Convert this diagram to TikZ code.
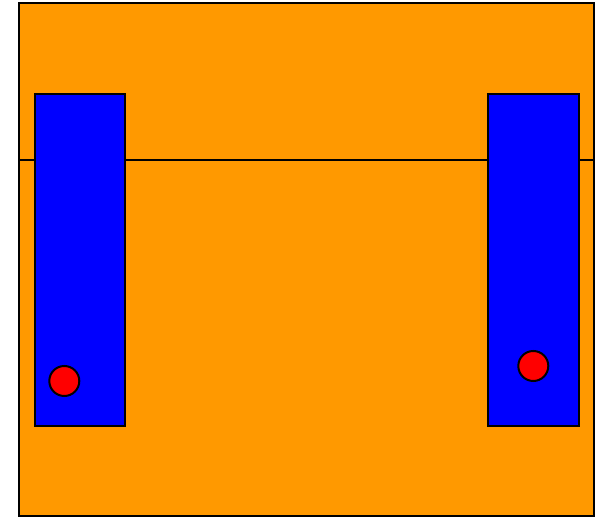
\documentclass[tikz,border=0pt]{standalone}
\usepackage{tikz}
\usetikzlibrary{calc}
\usetikzlibrary{shapes.geometric}

\definecolor{tankorange}{RGB}{255,153,0}

\begin{document}
\begin{tikzpicture}[x=1pt,y=-1pt,line width=2pt,
   tank/.style={draw,fill=tankorange,rectangle,inner sep=0pt,minimum width=574.5pt,minimum height=512.5pt},
   post/.style={draw,fill=blue,rectangle,inner sep=0pt,minimum height=332.5pt},
   ball/.style={draw,fill=red,circle,inner sep=0pt,minimum size=30pt}]
\useasboundingbox (0,0) rectangle (600,518);
\node[tank] (tank) at (306.25,259.75) {};
\coordinate (divl) at (tank.west |- 0,160);
\coordinate (divr) at (tank.east |- 0,160);
\draw (divl) -- (divr);
\node[post,minimum width=90pt] (postl) at (79.5,260.25) {};
\node[post,minimum width=91pt] (postr) at (533.5,260.25) {};
\node[ball] (balll) at (64.3,381) {};
\node[ball] (ballr) at (533.3,366) {};
\end{tikzpicture}
\end{document}
